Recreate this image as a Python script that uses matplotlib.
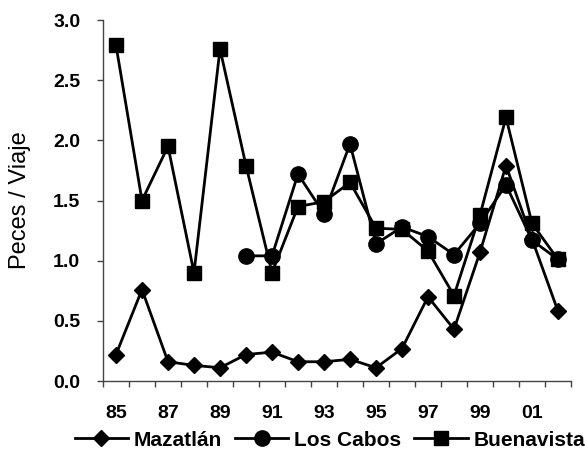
import matplotlib
matplotlib.use("Agg")
import matplotlib.pyplot as plt
import numpy as np

plt.rcParams['font.family'] = ['Liberation Sans', 'DejaVu Sans']

years = ['85','86','87','88','89','90','91','92','93','94','95','96','97','98','99','00','01','02']
mazatlan = [0.22,0.76,0.16,0.13,0.11,0.22,0.24,0.16,0.16,0.18,0.11,0.27,0.70,0.43,1.07,1.79,1.18,0.58]
los_cabos = [None,None,None,None,None,1.04,1.04,1.72,1.39,1.97,1.14,1.28,1.20,1.05,1.31,1.63,1.17,1.01]
buenavista = [2.79,1.50,1.95,0.90,2.76,1.79,0.90,1.45,1.49,1.65,1.27,1.26,1.08,0.71,1.38,2.19,1.31,1.01]
tick_labels = ['85','87','89','91','93','95','97','99','01']

def arr(v):
    return np.array([np.nan if x is None else x for x in v], dtype=float)

fig = plt.figure(figsize=(5.85, 4.5), dpi=100)
ax = fig.add_axes([103/585, 1-381/450, (571-103)/585, (381-20)/450])

x = np.arange(len(years))
lw = 2.0
ax.plot(x, arr(mazatlan), color='black', lw=lw, marker='D', ms=8.5, label='Mazatlán')
ax.plot(x, arr(los_cabos), color='black', lw=lw, marker='o', ms=11, label='Los Cabos')
ax.plot(x, arr(buenavista), color='black', lw=lw, marker='s', ms=10, label='Buenavista')

ax.set_xlim(-0.5, len(years)-0.5)
ax.set_ylim(0, 3.0)
ax.set_yticks(np.arange(0, 3.01, 0.5))
ax.set_yticklabels([f'{v:.1f}' for v in np.arange(0, 3.01, 0.5)], fontsize=14, fontweight='bold')
ax.set_xticks(np.arange(-0.5, len(years), 1.0))
ax.set_xticklabels([])
ax.set_xticks(x[::2], minor=True)
ax.set_xticklabels(tick_labels, minor=True, fontsize=14, fontweight='bold')
ax.tick_params(axis='x', which='major', direction='out', length=4.3, color='#444444', width=1)
ax.tick_params(axis='x', which='minor', length=0, pad=17)
ax.tick_params(axis='y', direction='out', length=4.3, color='#444444', width=1, pad=12)

for s in ['top', 'right']:
    ax.spines[s].set_visible(False)
for s in ['left', 'bottom']:
    ax.spines[s].set_color('#444444')
    ax.spines[s].set_linewidth(1)

ax.set_ylabel('Peces / Viaje', fontsize=17, labelpad=16)

fig.legend(loc='center', bbox_to_anchor=(330/585, 1-440/450), ncol=3, frameon=False,
           prop={'size': 15, 'weight': 'bold'}, handlelength=2.55, columnspacing=0.62,
           handletextpad=0.29, borderaxespad=0, borderpad=0)

fig.savefig('out.png', dpi=100)
